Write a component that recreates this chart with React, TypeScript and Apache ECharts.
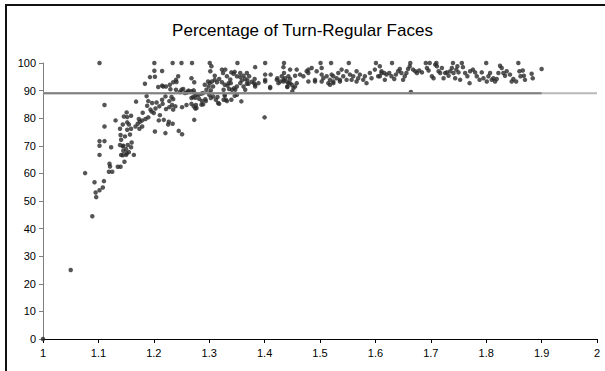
import React, { useEffect, useRef } from "react";
import * as echarts from "echarts";

const TITLE = "Percentage of Turn-Regular Faces";
const X_MIN = 1;
const X_MAX = 2;
const X_STEP = 0.1;
const Y_MIN = 0;
const Y_MAX = 100;
const Y_STEP = 10;
const THRESHOLD = 89;
const THRESHOLD_DARK_END = 1.9;

// x < 1.2 : the steep ramp
const rampPoints: [number, number][] = [
  [1.0, 0], [1.05, 25], [1.076, 60.1], [1.089, 44.5], [1.093, 56.8], [1.095, 53.1], [1.096, 51.4],
  [1.102, 53.9], [1.108, 54.9], [1.11, 57.2], [1.102, 66.7], [1.102, 70.0], [1.102, 71.7], [1.111, 71.7],
  [1.111, 77.0], [1.111, 84.8], [1.119, 60.6], [1.125, 60.6], [1.12, 63.5], [1.121, 62.5], [1.135, 62.4],
  [1.14, 62.4], [1.141, 66.7], [1.15, 66.7], [1.155, 67.7], [1.164, 66.7], [1.145, 68.2], [1.147, 64.2],
  [1.123, 69.5], [1.14, 73.9], [1.148, 73.4], [1.157, 74.1], [1.141, 72.2], [1.139, 70.3], [1.144, 69.8],
  [1.15, 68.8], [1.145, 70.0], [1.153, 70.3], [1.16, 71.2], [1.159, 69.5], [1.151, 67.3], [1.144, 66.6],
  [1.131, 79.2], [1.139, 76.2], [1.144, 77.7], [1.152, 78.5], [1.151, 82.1], [1.152, 80.4], [1.159, 80.9],
  [1.146, 80.6], [1.155, 77.7], [1.152, 75.8], [1.159, 76.2], [1.167, 77.0], [1.171, 78.0], [1.175, 78.7],
  [1.179, 79.2], [1.185, 79.7], [1.179, 77.0], [1.174, 76.2], [1.173, 79.7], [1.168, 86.0], [1.19, 86.2],
  [1.197, 85.5], [1.184, 92.5], [1.193, 94.9], [1.188, 84.5], [1.194, 83.1], [1.18, 82.0], [1.19, 80.3],
  [1.196, 82.4], [1.187, 88.0]
];

// 1.2 <= x < 1.4 : the bend
const risePoints: [number, number][] = [
  [1.215, 97.1], [1.202, 95.0], [1.241, 93.1], [1.268, 94.5], [1.273, 93.0], [1.217, 91.5], [1.222, 91.5],
  [1.23, 90.5], [1.24, 90.3], [1.247, 89.5], [1.253, 90.6], [1.259, 89.2], [1.263, 90.0], [1.268, 89.8],
  [1.274, 89.0], [1.277, 88.5], [1.215, 86.7], [1.221, 87.9], [1.232, 87.7], [1.235, 86.9], [1.228, 86.2],
  [1.205, 85.7], [1.251, 84.0], [1.259, 84.8], [1.268, 85.2], [1.275, 83.5], [1.273, 79.4], [1.203, 83.5],
  [1.21, 84.3], [1.216, 85.2], [1.222, 83.3], [1.228, 84.0], [1.233, 84.8], [1.235, 83.1], [1.239, 84.3],
  [1.2, 81.9], [1.211, 81.1], [1.218, 79.4], [1.227, 78.7], [1.234, 78.0], [1.209, 79.2], [1.226, 77.7],
  [1.202, 75.2], [1.221, 74.6], [1.245, 75.4], [1.251, 74.2], [1.201, 97.2], [1.208, 91.3], [1.215, 91.8],
  [1.229, 92.1], [1.235, 93.0], [1.24, 93.9], [1.244, 95.2], [1.25, 90.3], [1.256, 89.1], [1.261, 89.7],
  [1.272, 90.1], [1.268, 87.3], [1.275, 87.4], [1.272, 84.3], [1.281, 88.5], [1.286, 88.9], [1.287, 86.2],
  [1.293, 86.9], [1.295, 90.3], [1.299, 91.5], [1.301, 92.7], [1.305, 93.3], [1.31, 93.9], [1.31, 95.4],
  [1.318, 94.2], [1.325, 96.4], [1.329, 97.6], [1.332, 95.2], [1.323, 93.0], [1.314, 93.0], [1.307, 91.5],
  [1.303, 90.1], [1.3, 88.5], [1.307, 87.9], [1.312, 86.7], [1.316, 85.5], [1.326, 86.7], [1.328, 88.1],
  [1.326, 90.3], [1.328, 92.1], [1.333, 91.8], [1.335, 92.7], [1.338, 94.0], [1.34, 96.6], [1.344, 96.1],
  [1.346, 96.8], [1.35, 95.2], [1.356, 94.9], [1.362, 95.4], [1.365, 94.2], [1.369, 93.7], [1.371, 92.5],
  [1.377, 93.2], [1.381, 92.7], [1.383, 91.5], [1.382, 94.2], [1.372, 95.2], [1.368, 96.4], [1.356, 96.4],
  [1.336, 90.6], [1.341, 90.3], [1.345, 90.9], [1.35, 91.5], [1.346, 88.1], [1.356, 92.7], [1.359, 93.7],
  [1.362, 91.5], [1.365, 90.3], [1.358, 86.1], [1.34, 86.7], [1.332, 86.2], [1.289, 85.0], [1.277, 83.7],
  [1.276, 84.8], [1.286, 84.9], [1.294, 86.2], [1.282, 87.0], [1.271, 87.7], [1.289, 89.1], [1.301, 89.1],
  [1.303, 87.3], [1.315, 87.7], [1.318, 85.2], [1.33, 86.7], [1.328, 88.5], [1.339, 92.7], [1.347, 90.3],
  [1.35, 88.5], [1.292, 92.1], [1.298, 93.3], [1.304, 98.8], [1.302, 97.0], [1.323, 97.6], [1.368, 92.5],
  [1.383, 92.1], [1.389, 92.7], [1.383, 98.5], [1.40, 80.3]
];

// 1.4 <= x < 1.62 : plateau
const plateauPoints: [number, number][] = [
  [1.401, 95.8], [1.401, 93.9], [1.411, 95.8], [1.41, 90.9], [1.422, 93.9], [1.423, 94.5], [1.428, 93.3],
  [1.431, 95.2], [1.434, 93.9], [1.437, 94.5], [1.44, 93.3], [1.443, 95.2], [1.446, 94.2], [1.435, 96.4],
  [1.443, 92.7], [1.449, 92.1], [1.452, 90.9], [1.441, 91.5], [1.458, 92.7], [1.45, 89.7], [1.458, 97.6],
  [1.455, 95.4], [1.446, 97.6], [1.434, 98.5], [1.464, 95.8], [1.47, 95.2], [1.476, 97.0], [1.479, 96.4],
  [1.401, 93.3], [1.41, 91.3], [1.425, 92.7], [1.434, 93.3], [1.441, 91.3], [1.455, 91.5], [1.446, 92.7],
  [1.479, 93.3], [1.491, 93.3], [1.503, 93.3], [1.518, 92.1], [1.524, 92.7], [1.536, 93.3], [1.479, 97.6],
  [1.491, 93.9], [1.494, 97.0], [1.503, 95.8], [1.506, 94.5], [1.512, 95.2], [1.515, 92.7], [1.518, 93.9],
  [1.521, 95.8], [1.524, 95.2], [1.53, 94.5], [1.533, 96.4], [1.536, 93.9], [1.539, 97.6], [1.542, 95.2],
  [1.548, 97.0], [1.554, 95.8], [1.557, 93.9], [1.56, 95.2], [1.566, 97.0], [1.569, 94.5], [1.572, 95.8],
  [1.578, 93.9], [1.581, 95.2], [1.584, 92.7], [1.59, 96.4], [1.593, 94.5], [1.599, 97.6], [1.605, 95.2],
  [1.608, 98.8], [1.611, 96.4], [1.617, 93.9], [1.503, 98.2], [1.485, 98.2], [1.524, 93.3], [1.548, 93.9],
  [1.566, 93.3], [1.608, 95.2], [1.611, 97.0], [1.616, 96.4]
];

// x >= 1.62 : tail
const tailPoints: [number, number][] = [
  [1.62, 95.8], [1.625, 96.4], [1.629, 95.2], [1.634, 94.2], [1.637, 95.8], [1.641, 97.0], [1.644, 97.8],
  [1.647, 96.4], [1.65, 93.9], [1.653, 95.2], [1.656, 96.4], [1.659, 97.8], [1.662, 98.8], [1.668, 97.6],
  [1.672, 97.0], [1.675, 96.4], [1.679, 97.3], [1.684, 96.6], [1.693, 98.2], [1.696, 97.3], [1.702, 95.2],
  [1.705, 94.5], [1.708, 99.4], [1.711, 98.8], [1.714, 97.0], [1.717, 96.4], [1.72, 98.2], [1.723, 94.5],
  [1.726, 96.4], [1.729, 96.6], [1.732, 95.4], [1.735, 97.0], [1.738, 98.2], [1.741, 96.4], [1.744, 94.5],
  [1.746, 97.6], [1.748, 98.8], [1.75, 96.6], [1.753, 93.9], [1.758, 98.5], [1.762, 96.4], [1.766, 95.2],
  [1.77, 92.7], [1.771, 97.0], [1.776, 97.6], [1.78, 96.6], [1.783, 95.2], [1.788, 93.9], [1.792, 96.6],
  [1.795, 94.5], [1.801, 93.3], [1.804, 95.2], [1.807, 96.4], [1.81, 93.9], [1.813, 94.5], [1.816, 93.3],
  [1.819, 94.2], [1.822, 96.4], [1.825, 99.0], [1.828, 98.2], [1.831, 96.4], [1.834, 95.4], [1.837, 97.0],
  [1.843, 95.8], [1.846, 93.3], [1.849, 94.2], [1.854, 93.3], [1.86, 97.0], [1.862, 95.2], [1.866, 97.3],
  [1.868, 95.4], [1.87, 93.9], [1.882, 96.1], [1.884, 94.5], [1.9, 97.8], [1.664, 89.5]
];

// points sitting on 100 %
const fullX: number[] = [
  1.102, 1.201, 1.234, 1.25, 1.269, 1.301, 1.351, 1.401, 1.435, 1.501, 1.52, 1.552, 1.601, 1.63, 1.663,
  1.691, 1.698, 1.71, 1.74, 1.756, 1.8, 1.858
];
const fullY: number[] = fullX.map(() => 100);

const FONT = "'Liberation Sans', Arial, Helvetica, sans-serif";

export default function App() {
  const ref = useRef<HTMLDivElement>(null);
  useEffect(() => {
    document.body.style.margin = "0";
    if (!ref.current) return;
    const chart = echarts.init(ref.current, null, { renderer: "svg" });
    const fullPoints = fullX.map((x, i) => [x, fullY[i]]);
    const allPoints = [...rampPoints, ...risePoints, ...plateauPoints, ...tailPoints, ...fullPoints];
    chart.setOption({
      animation: false,
      backgroundColor: "#fff",
      title: {
        text: TITLE,
        left: "center",
        top: 17,
        textStyle: { fontSize: 17, fontWeight: "normal", color: "#000", fontFamily: FONT },
      },
      graphic: [
        {
          type: "polyline",
          shape: { points: [[6, 380], [6, 5], [620, 5]] },
          style: { fill: "none", stroke: "#111", lineWidth: 2 },
          silent: true,
        },
      ],
      grid: { left: 43, right: 8, top: 63, bottom: 32, containLabel: false },
      xAxis: {
        type: "value",
        min: X_MIN,
        max: X_MAX,
        interval: X_STEP,
        axisLine: { show: true, lineStyle: { color: "#000", width: 1 } },
        axisTick: { show: true, inside: false, length: 4, lineStyle: { color: "#000" } },
        axisLabel: {
          color: "#000",
          fontSize: 11,
          fontFamily: FONT,
          margin: 8,
          formatter: (v: number) => String(Math.round(v * 10) / 10),
        },
        splitLine: { show: false },
      },
      yAxis: {
        type: "value",
        min: Y_MIN,
        max: Y_MAX,
        interval: Y_STEP,
        axisLine: { show: true, lineStyle: { color: "#7f7f7f", width: 1 } },
        axisTick: { show: true, inside: false, length: 4, lineStyle: { color: "#7f7f7f" } },
        axisLabel: { color: "#000", fontSize: 11, fontFamily: FONT, margin: 7 },
        splitLine: { show: false },
      },
      series: [
        {
          type: "scatter",
          data: allPoints,
          symbol: "circle",
          symbolSize: 4.5,
          itemStyle: { color: "#2a2a2a" },
          silent: true,
          z: 2,
        },
        {
          type: "line",
          data: [[X_MIN, THRESHOLD], [X_MAX, THRESHOLD]],
          symbol: "none",
          lineStyle: { color: "#b8b8b8", width: 2 },
          silent: true,
          z: 3,
        },
        {
          type: "line",
          data: [[X_MIN, THRESHOLD], [THRESHOLD_DARK_END, THRESHOLD]],
          symbol: "none",
          lineStyle: { color: "#808080", width: 2 },
          silent: true,
          z: 4,
        },
      ],
    });
    return () => chart.dispose();
  }, []);
  return <div ref={ref} style={{ width: 605, height: 371 }} />;
}
